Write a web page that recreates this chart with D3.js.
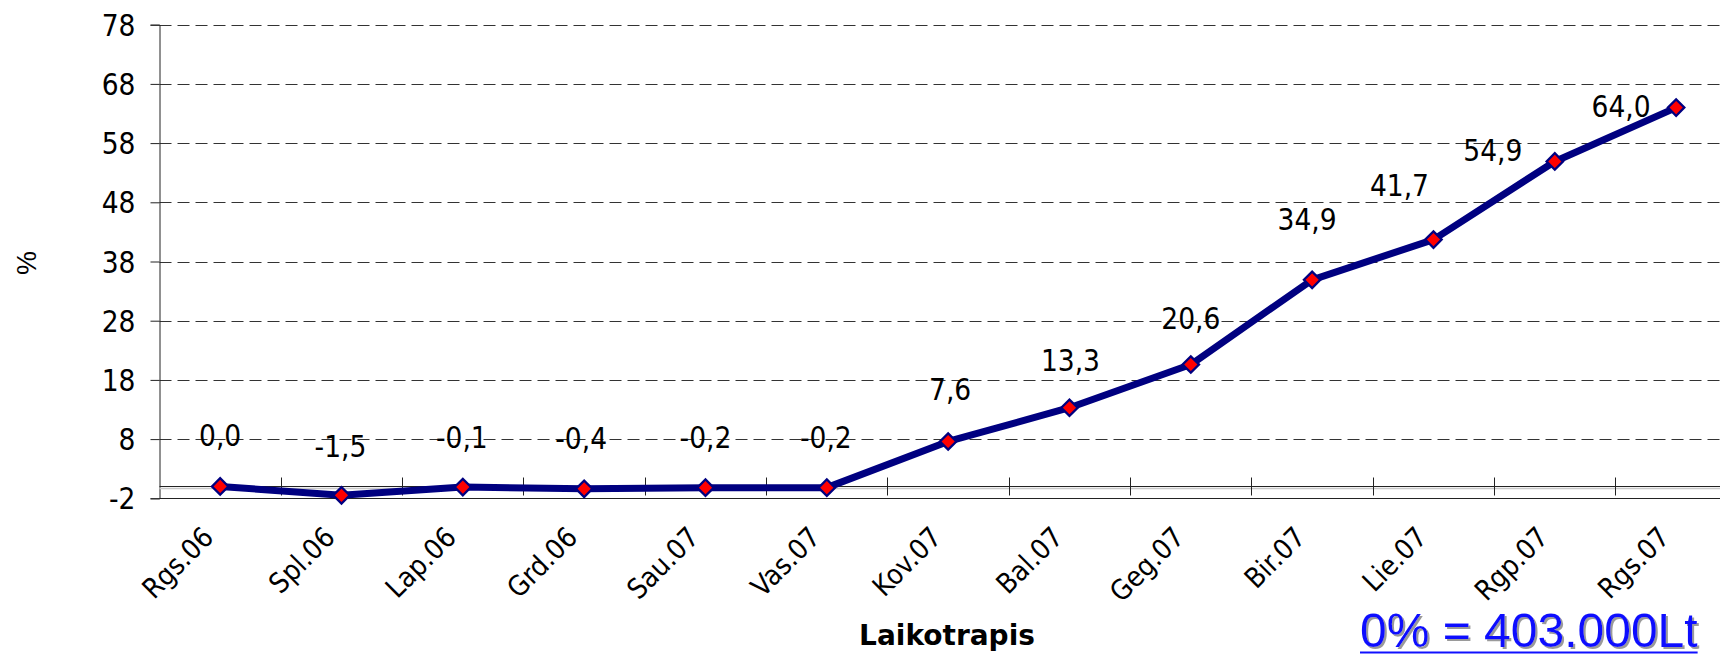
<!DOCTYPE html>
<html>
<head>
<meta charset="utf-8">
<script src="https://cdn.jsdelivr.net/npm/d3@7"></script>
<style>
  html, body { margin: 0; padding: 0; background: #fff; }
  svg { display: block; }
  .cond { font-family: "DejaVu Sans Condensed", "DejaVu Sans", sans-serif; font-stretch: condensed; }
</style>
</head>
<body>
<svg id="chart" width="1720" height="654"></svg>
<script>
// ---- data ----
const categories = ["Rgs.06", "Spl.06", "Lap.06", "Grd.06", "Sau.07", "Vas.07", "Kov.07", "Bal.07", "Geg.07", "Bir.07", "Lie.07", "Rgp.07", "Rgs.07"];
const values = [0.0, -1.5, -0.1, -0.4, -0.2, -0.2, 7.6, 13.3, 20.6, 34.9, 41.7, 54.9, 64.0];
const valueLabels = ["0,0", "-1,5", "-0,1", "-0,4", "-0,2", "-0,2", "7,6", "13,3", "20,6", "34,9", "41,7", "54,9", "64,0"];
const yTicks = [-2, 8, 18, 28, 38, 48, 58, 68, 78];
const yTitle = "%";
const xTitle = "Laikotrapis";
const note = "0% = 403.000Lt";

// ---- layout / style (not data) ----
const labelDx = [0, -1, -1, -3, 0, -1, 2, 1, 0, -5, -34, -62, -55];
const labelDy = [-40, -38.5, -39, -40, -40, -39.5, -41.5, -37, -35.5, -50, -44, 0, 9];

const svg = d3.select("#chart");
const defs = svg.append("defs");
const f = defs.append("filter").attr("id", "shadow").attr("x", "-5%").attr("y", "-20%").attr("width", "110%").attr("height", "140%");
f.append("feDropShadow").attr("dx", 2).attr("dy", 2).attr("stdDeviation", 0.6)
  .attr("flood-color", "#9a9a9a").attr("flood-opacity", 1);

const plotLeft = 159.5, plotTop = 24.7, plotBottom = 498.3;
const band = 121.33;
const plotRight = plotLeft + band * categories.length;

const x = d3.scaleBand().domain(categories).range([plotLeft, plotRight]).padding(0);
const y = d3.scaleLinear().domain([-2, 78]).range([plotBottom, plotTop]);

// gridlines
svg.append("g").selectAll("line").data(yTicks.filter(t => t !== -2)).join("line")
  .attr("x1", plotLeft).attr("x2", 1720)
  .attr("y1", d => Math.round(y(d)) + 0.5).attr("y2", d => Math.round(y(d)) + 0.5)
  .attr("stroke", "#333").attr("stroke-width", 1).attr("stroke-dasharray", "12,6");

// bottom border at -2
svg.append("line").attr("x1", plotLeft).attr("x2", 1720)
  .attr("y1", Math.round(y(-2)) + 0.5).attr("y2", Math.round(y(-2)) + 0.5)
  .attr("stroke", "#222").attr("stroke-width", 1);

// y axis
const yAxis = d3.axisLeft(y).tickValues(yTicks).tickSize(9).tickPadding(15).tickFormat(d => String(d));
const gy = svg.append("g").attr("transform", `translate(${plotLeft},0)`).call(yAxis);
gy.select(".domain").attr("stroke", "#222");
gy.selectAll(".tick line").attr("stroke", "#222");
gy.selectAll(".tick text").attr("class", "cond").attr("font-size", 29.5).attr("fill", "#000").attr("dy", "0.36em");

// zero line (category axis)
const y0 = Math.round(y(0)) + 0.5;
svg.append("line").attr("x1", plotLeft).attr("x2", 1720).attr("y1", y0 + 2).attr("y2", y0 + 2)
  .attr("stroke", "#c8c8c8").attr("stroke-width", 1.5);
svg.append("line").attr("x1", plotLeft).attr("x2", 1720).attr("y1", y0).attr("y2", y0)
  .attr("stroke", "#222").attr("stroke-width", 1);
// category boundary ticks (crossing)
svg.append("g").selectAll("line").data(categories.slice(1)).join("line")
  .attr("x1", d => Math.round(x(d)) + 0.5).attr("x2", d => Math.round(x(d)) + 0.5)
  .attr("y1", y0 - 9).attr("y2", y0 + 9)
  .attr("stroke", "#222").attr("stroke-width", 1);

// category labels
svg.append("g").selectAll("text").data(categories).join("text")
  .attr("class", "cond")
  .attr("font-size", 28)
  .attr("text-anchor", "end")
  .attr("transform", d => `translate(${x(d) + x.bandwidth() / 2 - 5},539) rotate(-45)`)
  .text(d => d);

// line
const cx = (d, i) => x(categories[i]) + x.bandwidth() / 2;
const line = d3.line().x((d, i) => cx(d, i)).y(d => y(d));
svg.append("path").datum(values)
  .attr("d", line).attr("fill", "none")
  .attr("stroke", "#000080").attr("stroke-width", 7).attr("stroke-linejoin", "round");

// markers
const sym = d3.symbol().type(d3.symbolSquare).size(135);
svg.append("g").selectAll("path").data(values).join("path")
  .attr("d", sym)
  .attr("transform", (d, i) => `translate(${cx(d, i)},${y(d)}) rotate(45)`)
  .attr("fill", "#ff0000").attr("stroke", "#000080").attr("stroke-width", 2.3);

// data labels
svg.append("g").selectAll("text").data(values).join("text")
  .attr("class", "cond")
  .attr("font-size", 29.5)
  .attr("text-anchor", "middle")
  .attr("x", (d, i) => cx(d, i) + labelDx[i])
  .attr("y", (d, i) => y(d) + labelDy[i])
  .text((d, i) => valueLabels[i]);

// axis titles
svg.append("text")
  .attr("transform", "translate(36,263) rotate(-90)")
  .attr("text-anchor", "middle")
  .attr("font-family", "Liberation Sans, Arial, sans-serif")
  .attr("font-size", 27)
  .text(yTitle);

svg.append("text")
  .attr("x", 947).attr("y", 645)
  .attr("text-anchor", "middle")
  .attr("font-family", "DejaVu Sans, sans-serif")
  .attr("font-weight", "bold")
  .attr("font-size", 28)
  .text(xTitle);

// note with shadow + underline
const noteG = svg.append("g").attr("filter", "url(#shadow)");
const nt = noteG.append("text").attr("x", 1360).attr("y", 647)
  .attr("font-family", "Liberation Sans, Arial, sans-serif").attr("font-size", 48)
  .attr("fill", "#1010ff").text(note);
const nw = nt.node().getComputedTextLength();
svg.append("line").attr("x1", 1360).attr("x2", 1360 + nw).attr("y1", 652.5).attr("y2", 652.5)
  .attr("stroke", "#1010ff").attr("stroke-width", 2);
</script>
</body>
</html>
